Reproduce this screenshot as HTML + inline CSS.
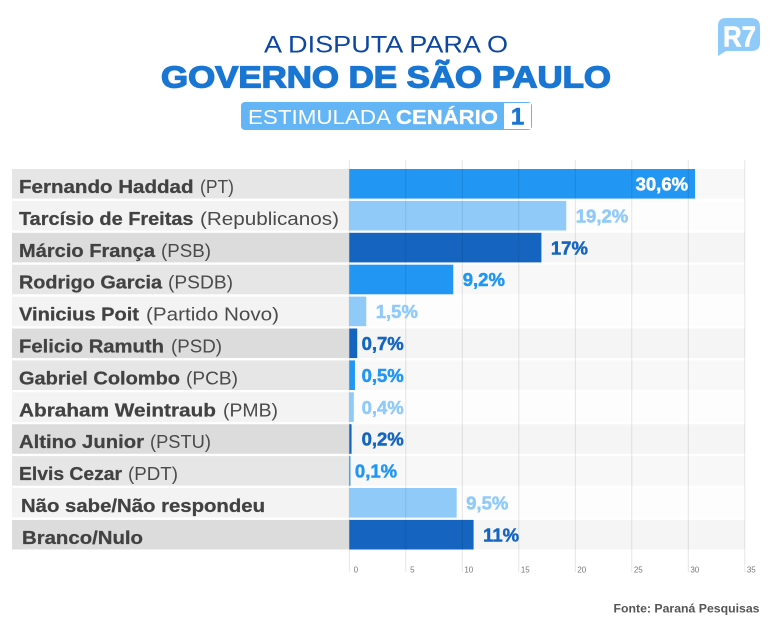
<!DOCTYPE html>
<html lang="pt-BR">
<head>
<meta charset="utf-8">
<title>A disputa para o Governo de São Paulo</title>
<style>
html,body{margin:0;padding:0;background:#fff;}
svg{display:block;font-family:"Liberation Sans",sans-serif;}
</style>
</head>
<body>
<svg id="chart" width="770" height="623" viewBox="0 0 770 623" xmlns="http://www.w3.org/2000/svg">
  <rect width="770" height="623" fill="#fff"/>
  <text x="264" y="52.5" font-size="24" fill="#0d47a1" textLength="244" lengthAdjust="spacingAndGlyphs">A DISPUTA PARA O</text>
  <text x="161" y="87.5" font-size="31" font-weight="700" fill="#1976d2" stroke="#1976d2" stroke-width="1.3" textLength="450" lengthAdjust="spacingAndGlyphs">GOVERNO DE SÃO PAULO</text>
  <g>
    <rect x="241" y="102" width="291" height="28" rx="4" fill="#64b5f6"/>
    <rect x="504" y="103" width="27" height="26" fill="#fff"/>
    <text x="248" y="124" font-size="20" fill="#fff" textLength="143" lengthAdjust="spacingAndGlyphs">ESTIMULADA</text>
    <text x="396" y="124" font-size="20" font-weight="700" fill="#fff" stroke="#fff" stroke-width=".3" textLength="102" lengthAdjust="spacingAndGlyphs">CENÁRIO</text>
    <text x="517.5" y="124.5" font-size="24" font-weight="700" fill="#1976d2" stroke="#1976d2" stroke-width=".6" text-anchor="middle">1</text>
  </g>
  <g>
    <path d="M726 18H751Q760 18 760 27V43Q760 51 751 51H726L718 56V26Q718 18 726 18Z" fill="#90caf9"/>
    <text x="723" y="46.5" font-size="29" font-weight="700" fill="#fff" stroke="#fff" stroke-width=".6" textLength="33" lengthAdjust="spacingAndGlyphs">R7</text>
  </g>
  <g id="plot"></g>
  <text x="613.5" y="612.5" font-size="12" font-weight="700" fill="#555" textLength="146" lengthAdjust="spacingAndGlyphs">Fonte: Paraná Pesquisas</text>
</svg>
<script>
const categories = ["Fernando Haddad","Tarcísio de Freitas","Márcio França","Rodrigo Garcia","Vinicius Poit","Felicio Ramuth","Gabriel Colombo","Abraham Weintraub","Altino Junior","Elvis Cezar","Não sabe/Não respondeu","Branco/Nulo"];
const parties = ["(PT)","(Republicanos)","(PSB)","(PSDB)","(Partido Novo)","(PSD)","(PCB)","(PMB)","(PSTU)","(PDT)","",""];
const values = [30.6,19.2,17,9.2,1.5,0.7,0.5,0.4,0.2,0.1,9.5,11];
const valueLabels = ["30,6%","19,2%","17%","9,2%","1,5%","0,7%","0,5%","0,4%","0,2%","0,1%","9,5%","11%"];
const tickLabels = [0,5,10,15,20,25,30,35];

/* Text fitting for the substitute font, keyed by label: [name start, name width, party start, party width] */
const labelFit = {
  "Fernando Haddad":[19,174.5,200,34],
  "Tarcísio de Freitas":[19,174.5,200,139],
  "Márcio França":[19,136,161,50],
  "Rodrigo Garcia":[19,143,168,65],
  "Vinicius Poit":[19,120,146,133],
  "Felicio Ramuth":[19,145,171,51],
  "Gabriel Colombo":[19,161,186,52],
  "Abraham Weintraub":[19,197,223,55],
  "Altino Junior":[19,125,150,61],
  "Elvis Cezar":[19,103,128,50],
  "Não sabe/Não respondeu":[21,244,0,0],
  "Branco/Nulo":[22,121,0,0]
};

const NS = "http://www.w3.org/2000/svg";
const plot = document.getElementById("plot");
const x0 = 349.3, unit = 11.3, rowTop = 169, rowPitch = 31.9, rowHeight = 29.6;
const barColors = ["#2196f3","#90caf9","#1565c0"];
const labelBg = ["#e6e6e6","#f3f3f3","#dcdcdc"];
const trackBg = ["#f8f8f8","#fdfdfd","#f5f5f5"];
const xScale = v => x0 + v * unit;
const yScale = i => rowTop + i * rowPitch;

function make(tag, attrs, text) {
  const el = document.createElementNS(NS, tag);
  for (const k in attrs) el.setAttribute(k, attrs[k]);
  if (text !== undefined) el.textContent = text;
  plot.appendChild(el);
  return el;
}

categories.forEach((name, i) => {
  const band = make("rect", {x:12, y:yScale(i), width:x0-12, height:rowHeight, fill:labelBg[i%3]});
  
  
  const track = make("rect", {x:x0, y:yScale(i), width:xScale(35)-x0, height:rowHeight, fill:trackBg[i%3]});
  
  
});

values.forEach((v, i) => {
  const bar = make("rect", {x:x0, y:yScale(i), width:xScale(v)-x0, height:rowHeight, fill:barColors[i%3]});
  
  
});

tickLabels.forEach(t => {
  const line = make("line", {x1:xScale(t), x2:xScale(t), y1:160, y2:572, stroke:"#000", "stroke-opacity":0.1, "stroke-width":1});
  
  
  const label = make("text", {x:xScale(t)+6.5, y:572.5, "font-size":8, fill:"#777", "text-anchor":"middle"}, String(t));
  
  
});

categories.forEach((name, i) => {
  const fit = labelFit[name] || [19,150,175,50];
  const baseline = yScale(i) + 24;
  const nameText = make("text", {x:fit[0], y:baseline, "font-size":18, "font-weight":700, fill:"#424242", stroke:"#424242", "stroke-width":0.25, textLength:fit[1], lengthAdjust:"spacingAndGlyphs"}, name);
  
  
  if (parties[i]) {
    const partyText = make("text", {x:fit[2], y:baseline, "font-size":18, fill:"#4a4a4a", textLength:fit[3], lengthAdjust:"spacingAndGlyphs"}, parties[i]);
    
    
  }
});

values.forEach((v, i) => {
  const inside = v >= 25;
  const color = inside ? "#fff" : barColors[i%3];
  const attrs = {
    y: yScale(i) + 21.5,
    "font-size": 18.5,
    "font-weight": 700,
    fill: color,
    stroke: color,
    "stroke-width": 0.5
  };
  if (inside) {
    attrs.x = xScale(v) - 7;
    attrs["text-anchor"] = "end";
  } else if (v < 0.15) {
    attrs.x = xScale(v) + 4.5;
  } else {
    attrs.x = v < 1 ? xScale(1) + 1 : xScale(v) + 9.5;
  }
  const label = make("text", attrs, valueLabels[i]);
  
  
});
</script>
</body>
</html>
